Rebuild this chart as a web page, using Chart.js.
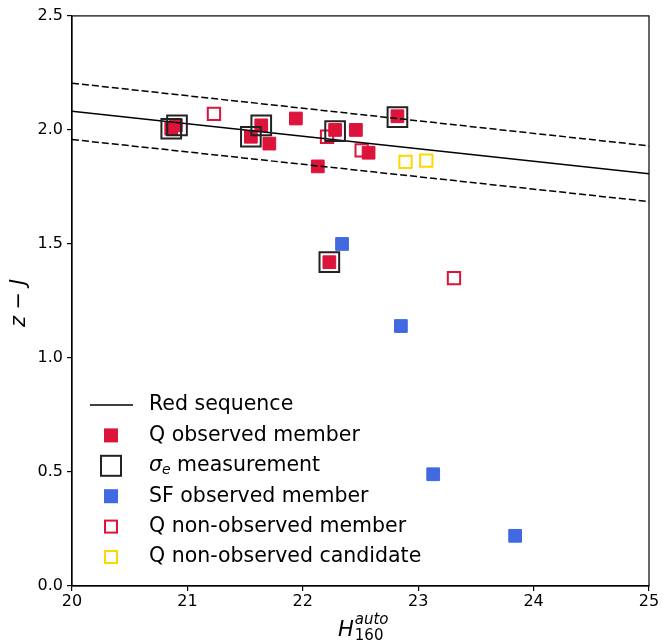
<!DOCTYPE html>
<html><head><meta charset="utf-8">
<script src="https://cdn.jsdelivr.net/npm/chart.js@4.4.1/dist/chart.umd.min.js"></script>
<style>html,body{margin:0;padding:0;background:#fff}#wrap{width:671px;height:641px}</style>
</head><body><div id="wrap"><canvas id="c" width="671" height="641"></canvas></div>
<script>
// Red sequence and ±1σ scatter lines
const rsH = [20, 25];
const rsZJ = [2.082, 1.808];
const rsUpper = [2.205, 1.930];
const rsLower = [1.958, 1.686];
// Q observed members
const qObsH  = [20.86, 20.90, 21.55, 21.64, 21.71, 21.94, 22.13, 22.28, 22.46, 22.57, 22.82, 22.23];
const qObsZJ = [2.005, 2.02, 1.97, 2.02, 1.94, 2.05, 1.84, 2.00, 2.00, 1.90, 2.06, 1.42];
// sigma_e measurements
const sigH  = [20.86, 20.91, 21.55, 21.64, 22.28, 22.82, 22.23];
const sigZJ = [2.005, 2.02, 1.97, 2.02, 1.995, 2.056, 1.42];
// SF observed members
const sfH  = [22.34, 22.85, 23.13, 23.84];
const sfZJ = [1.50, 1.14, 0.49, 0.22];
// Q non-observed members
const qNoH  = [21.23, 22.21, 22.51, 23.31];
const qNoZJ = [2.07, 1.97, 1.91, 1.35];
// Q non-observed candidates
const qCandH  = [22.89, 23.07];
const qCandZJ = [1.86, 1.865];
// ticks
const xTicks = [20, 21, 22, 23, 24, 25];
const yTicks = [0.0, 0.5, 1.0, 1.5, 2.0, 2.5];

const RED = '#dc143c', BLUE = '#4169e1', GOLD = '#ffd700';
const pts = (xs, ys) => xs.map((x, i) => ({x: x, y: ys[i]}));

const datasets = [
  {label: '\u03c3e measurement', data: pts(sigH, sigZJ), pointStyle: 'rect', pointRadius: 13.9,
   backgroundColor: 'rgba(0,0,0,0)', borderColor: '#222', pointBorderWidth: 2, showLine: false, order: 0, lg: 'sig'},
  {label: 'Red sequence', type: 'line', data: pts(rsH, rsZJ), borderColor: '#000', borderWidth: 1.5, pointRadius: 0, fill: false, order: 1, lg: 'line'},
  {label: '_up', type: 'line', data: pts(rsH, rsUpper), borderColor: '#000', borderWidth: 1.5, borderDash: [7, 3], pointRadius: 0, fill: false, order: 1},
  {label: '_lo', type: 'line', data: pts(rsH, rsLower), borderColor: '#000', borderWidth: 1.5, borderDash: [7, 3], pointRadius: 0, fill: false, order: 1},
  {label: 'Q observed member', data: pts(qObsH, qObsZJ), pointStyle: 'rect', pointRadius: 9,
   backgroundColor: RED, borderColor: RED, pointBorderWidth: 1, order: 2, lg: 'fill', col: RED},
  {label: 'SF observed member', data: pts(sfH, sfZJ), pointStyle: 'rect', pointRadius: 9,
   backgroundColor: BLUE, borderColor: BLUE, pointBorderWidth: 1, order: 3, lg: 'fill', col: BLUE},
  {label: 'Q non-observed member', data: pts(qNoH, qNoZJ), pointStyle: 'rect', pointRadius: 8.7,
   backgroundColor: 'rgba(255,255,255,0.9)', borderColor: RED, pointBorderWidth: 2, order: 4, lg: 'hollow', col: RED},
  {label: 'Q non-observed candidate', data: pts(qCandH, qCandZJ), pointStyle: 'rect', pointRadius: 8.7,
   backgroundColor: 'rgba(255,255,255,0.9)', borderColor: GOLD, pointBorderWidth: 2, order: 5, lg: 'hollow', col: GOLD}
];

const legendOrder = ['Red sequence', 'Q observed member', '\u03c3e measurement', 'SF observed member', 'Q non-observed member', 'Q non-observed candidate'];

const FONT = "'DejaVu Sans', sans-serif";
const LFS = 20.5;

const decor = {
  id: 'decor',
  afterDraw(chart) {
    const ctx = chart.ctx, a = chart.chartArea;
    ctx.save();
    // frame
    ctx.strokeStyle = '#000'; ctx.lineWidth = 1.2;
    ctx.strokeRect(a.left, a.top, a.right - a.left, a.bottom - a.top);
    // legend
    const x0 = 90, mx = 111, tx = 149, y0 = 405, dy = 30.4;
    ctx.textBaseline = 'middle'; ctx.textAlign = 'left';
    legendOrder.forEach((lab, i) => {
      const ds = chart.data.datasets.find(d => d.label === lab);
      const y = y0 + i * dy;
      if (ds.lg === 'line') {
        ctx.strokeStyle = '#000'; ctx.lineWidth = 1.5; ctx.setLineDash([]);
        ctx.beginPath(); ctx.moveTo(x0, y); ctx.lineTo(x0 + 43, y); ctx.stroke();
      } else if (ds.lg === 'fill') {
        ctx.fillStyle = ds.col; ctx.fillRect(mx - 7, y - 7, 14, 14);
      } else if (ds.lg === 'hollow') {
        ctx.strokeStyle = ds.col; ctx.lineWidth = 2; ctx.strokeRect(mx - 6, y - 6, 12, 12);
      } else if (ds.lg === 'sig') {
        ctx.strokeStyle = '#222'; ctx.lineWidth = 2; ctx.strokeRect(mx - 10, y - 10, 20, 20);
      }
      ctx.fillStyle = '#000';
      if (ds.lg === 'sig') {
        ctx.font = 'italic ' + LFS + 'px ' + FONT;
        ctx.fillText('\u03c3', tx, y);
        let w = ctx.measureText('\u03c3').width;
        ctx.font = 'italic 14px ' + FONT;
        ctx.fillText('e', tx + w, y + 5);
        w += ctx.measureText('e').width;
        ctx.font = LFS + 'px ' + FONT;
        ctx.fillText(' measurement', tx + w, y);
      } else {
        ctx.font = LFS + 'px ' + FONT;
        ctx.fillText(lab, tx, y);
      }
    });
    // x title: H_160^auto
    ctx.textBaseline = 'alphabetic';
    ctx.font = 'italic 21px ' + FONT;
    const hx = 338, hy = 636;
    ctx.fillText('H', hx, hy);
    const hw = ctx.measureText('H').width;
    ctx.font = 'italic 15px ' + FONT;
    ctx.fillText('auto', hx + hw + 1, hy - 12);
    ctx.font = '15px ' + FONT;
    ctx.fillText('160', hx + hw + 1, hy + 4);
    // y title: z − J
    ctx.translate(25, 303);
    ctx.rotate(-Math.PI / 2);
    ctx.textAlign = 'left';
    const parts = [['z', 'italic'], [' \u2212 ', 'normal'], ['J', 'italic']];
    let tot = 0;
    parts.forEach(p => { ctx.font = p[1] + ' 21px ' + FONT; tot += ctx.measureText(p[0]).width; });
    let cx = -tot / 2;
    parts.forEach(p => { ctx.font = p[1] + ' 21px ' + FONT; ctx.fillText(p[0], cx, 0); cx += ctx.measureText(p[0]).width; });
    ctx.restore();
  }
};

new Chart(document.getElementById('c'), {
  type: 'scatter',
  data: {datasets: datasets},
  options: {
    responsive: false, animation: false, devicePixelRatio: 1,
    layout: {padding: {top: 13, right: 22, left: 0, bottom: 0}},
    plugins: {legend: {display: false}, tooltip: {enabled: false}},
    scales: {
      x: {
        type: 'linear', min: 20, max: 25,
        afterBuildTicks: s => { s.ticks = xTicks.map(v => ({value: v})); },
        afterFit: s => { s.height = 55; },
        grid: {drawOnChartArea: false, drawTicks: true, tickLength: 5, color: '#000', lineWidth: 1.2},
        border: {display: true, color: '#000', width: 1.2},
        ticks: {color: '#000', font: {family: FONT, size: 16}, padding: 1, maxRotation: 0,
                callback: v => String(v)}
      },
      y: {
        type: 'linear', min: 0, max: 2.5,
        afterBuildTicks: s => { s.ticks = yTicks.map(v => ({value: v})); },
        afterFit: s => { s.width = 72; },
        grid: {drawOnChartArea: false, drawTicks: true, tickLength: 5, color: '#000', lineWidth: 1.2},
        border: {display: true, color: '#000', width: 1.2},
        ticks: {color: '#000', font: {family: FONT, size: 16}, padding: 4,
                callback: v => Number(v).toFixed(1)}
      }
    }
  },
  plugins: [decor]
});
</script></body></html>
